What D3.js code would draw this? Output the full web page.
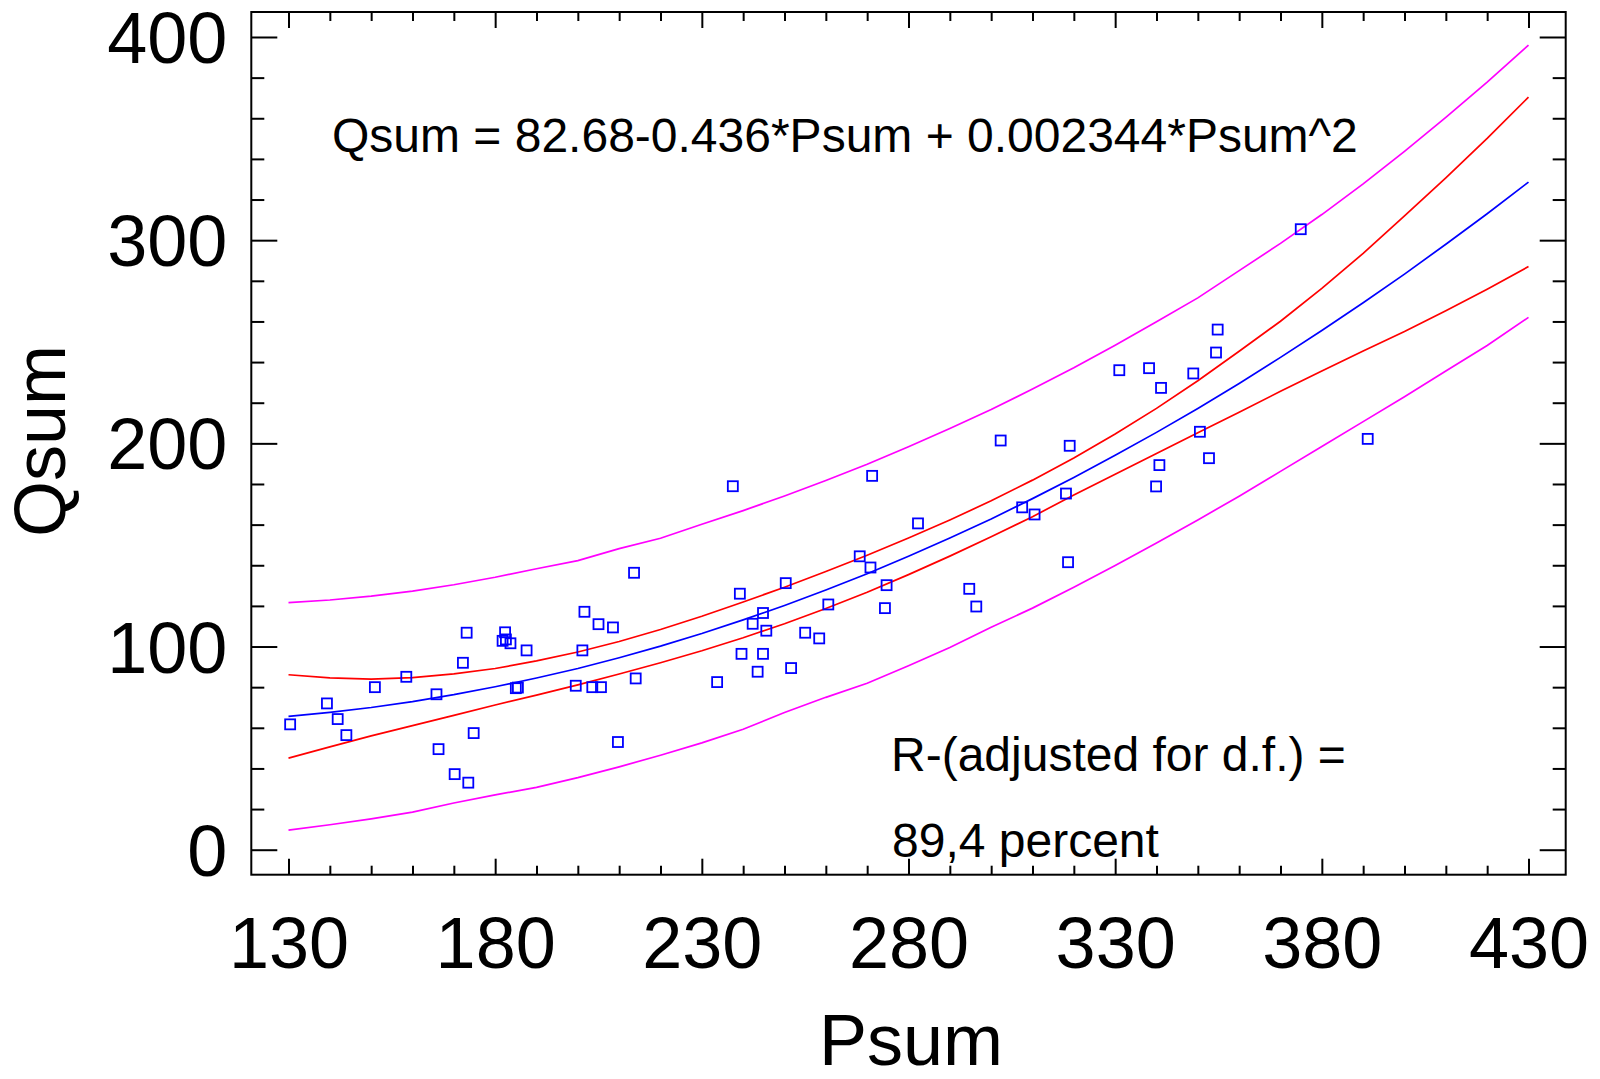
<!DOCTYPE html>
<html>
<head>
<meta charset="utf-8">
<script src="https://cdn.jsdelivr.net/npm/d3@7"></script>
<style>
  body { margin: 0; background: #fff; }
  svg { display: block; }
</style>
</head>
<body>
<div class="chart"></div>
<script>
// observed points (Psum, Qsum)
const psum = [130.4, 139.3, 141.9, 144.0, 150.9, 158.5, 165.8, 166.3, 170.2, 173.5,
  172.2, 173.1, 174.8, 182.4, 181.8, 183.7, 182.6, 187.6, 185.0, 185.5,
  199.5, 201.1, 201.6, 205.0, 208.5, 203.5, 205.6, 209.7, 213.6, 214.0,
  237.5, 239.2, 233.7, 239.6, 242.3, 244.8, 245.6, 244.8, 243.5, 251.6,
  250.3, 255.0, 258.4, 260.6, 268.2, 270.8, 271.2, 282.3, 274.7, 274.3,
  302.3, 319.0, 307.5, 310.5, 318.1, 318.6, 294.7, 296.4, 340.7, 339.9,
  350.5, 352.7, 374.9, 354.8, 354.4, 331.0, 338.2, 341.1, 348.9, 391.1];
const qsum = [61.7, 72.0, 64.3, 56.4, 80.0, 85.1, 76.5, 49.5, 37.2, 33.0,
  92.0, 106.8, 57.4, 107.0, 102.8, 101.6, 103.5, 98.1, 79.5, 79.8,
  80.7, 98.1, 117.1, 111.0, 109.4, 80.0, 80.0, 53.0, 136.3, 84.3,
  178.9, 126.0, 82.5, 96.4, 111.2, 116.5, 107.8, 96.4, 87.6, 89.4,
  131.2, 106.8, 104.0, 120.7, 144.4, 138.9, 184.0, 160.6, 130.2, 118.9,
  201.4, 198.8, 168.5, 165.0, 175.3, 141.5, 128.4, 119.7, 189.3, 178.8,
  205.7, 192.7, 305.4, 256.0, 244.7, 236.0, 237.0, 227.3, 234.4, 202.2];

// fitted curve and limits, read at each 10 of Psum
const curveX = [130, 140, 150, 160, 170, 180, 190, 200, 210, 220, 230, 240, 250, 260, 270, 280,
  290, 300, 310, 320, 330, 340, 350, 360, 370, 380, 390, 400, 410, 420, 430];
const fitQ = [65.6, 67.6, 70.0, 72.9, 76.3, 80.2, 84.5, 89.2, 94.5, 100.2, 106.4, 113.1, 120.2, 127.8, 135.8, 144.4,
  153.4, 162.8, 172.8, 183.2, 194.1, 205.4, 217.2, 229.5, 242.3, 255.5, 269.2, 283.3, 298.0, 313.0, 328.6];
const confHi = [86.1, 84.6, 84.0, 84.7, 86.5, 89.2, 92.9, 97.3, 102.5, 108.4, 114.9, 121.9, 129.2, 136.9, 144.9, 153.4,
  162.3, 171.7, 181.9, 192.8, 204.6, 217.2, 230.8, 245.3, 260.1, 276.3, 293.5, 311.9, 330.7, 350.1, 370.4];
const confLo = [45.1, 50.6, 56.0, 61.1, 66.1, 71.2, 76.1, 81.1, 86.5, 92.0, 97.9, 104.3, 111.2, 118.7, 126.7, 135.4,
  144.5, 154.0, 163.9, 174.6, 184.8, 195.0, 205.2, 215.3, 225.6, 235.6, 245.4, 255.0, 265.3, 275.9, 287.0];
const predHi = [121.6, 122.9, 124.8, 127.3, 130.4, 134.1, 138.3, 142.3, 148.2, 153.3, 160.2, 166.9, 174.1, 181.7, 189.7, 198.3,
  207.3, 216.7, 226.7, 237.2, 248.3, 259.9, 271.6, 285.0, 298.4, 312.6, 327.7, 343.7, 360.4, 377.8, 396.0];
const predLo = [9.6, 12.3, 15.2, 18.5, 23.0, 27.0, 30.7, 35.5, 40.8, 46.5, 52.6, 59.3, 67.5, 75.0, 81.9, 90.5,
  99.5, 109.5, 118.9, 129.2, 139.9, 150.9, 162.3, 174.0, 186.2, 198.4, 210.7, 222.9, 235.6, 248.2, 262.0];

// ticks
const xMajor = [130, 180, 230, 280, 330, 380, 430];
const xMinor = [140, 150, 160, 170, 190, 200, 210, 220, 240, 250, 260, 270, 290, 300, 310, 320,
  340, 350, 360, 370, 390, 400, 410, 420];
const yMajor = [0, 100, 200, 300, 400];
const yMinor = [20, 40, 60, 80, 120, 140, 160, 180, 220, 240, 260, 280, 320, 340, 360, 380];

const equation = "Qsum = 82.68-0.436*Psum + 0.002344*Psum^2";
const rLine1 = "R-(adjusted for d.f.) =";
const rLine2 = "89,4 percent";

const width = 1600, height = 1079;
const margin = {top: 12, right: 34.3, bottom: 204.3, left: 251.3};
const font = "'Liberation Sans', Arial, Helvetica, sans-serif";

const svg = d3.select(".chart").append("svg")
    .attr("width", width)
    .attr("height", height)
    .style("font-family", font);

const x = d3.scaleLinear()
    .domain([121, 439])
    .range([margin.left, width - margin.right]);

const y = d3.scaleLinear()
    .domain([-12.3, 412.3])
    .range([height - margin.bottom, margin.top]);

const bottomY = height - margin.bottom;
const rightX = width - margin.right;

// inward ticks on all four sides
function tickAxis(axis, values, size) {
  return g => g.call(axis.tickValues(values).tickSize(-size).tickFormat(""))
    .call(g => g.select(".domain").remove())
    .call(g => g.selectAll(".tick line").attr("stroke", "#000").attr("stroke-width", 2));
}

svg.append("g").attr("transform", `translate(0,${bottomY})`).call(tickAxis(d3.axisBottom(x), xMinor, 9));
svg.append("g").attr("transform", `translate(0,${bottomY})`).call(tickAxis(d3.axisBottom(x), xMajor, 16));
svg.append("g").attr("transform", `translate(0,${margin.top})`).call(tickAxis(d3.axisTop(x), xMinor, 9));
svg.append("g").attr("transform", `translate(0,${margin.top})`).call(tickAxis(d3.axisTop(x), xMajor, 16));
svg.append("g").attr("transform", `translate(${margin.left},0)`).call(tickAxis(d3.axisLeft(y), yMinor, 13));
svg.append("g").attr("transform", `translate(${margin.left},0)`).call(tickAxis(d3.axisLeft(y), yMajor, 26));
svg.append("g").attr("transform", `translate(${rightX},0)`).call(tickAxis(d3.axisRight(y), yMinor, 13));
svg.append("g").attr("transform", `translate(${rightX},0)`).call(tickAxis(d3.axisRight(y), yMajor, 26));

// tick labels
svg.append("g")
    .attr("transform", `translate(0,${bottomY})`)
    .call(d3.axisBottom(x).tickValues(xMajor).tickSize(0).tickPadding(42).tickFormat(d3.format("d")))
    .call(g => g.select(".domain").remove())
    .call(g => g.selectAll("text").attr("fill", "#000").style("font-size", "72px").style("font-family", font));

svg.append("g")
    .attr("transform", `translate(${margin.left},0)`)
    .call(d3.axisLeft(y).tickValues(yMajor).tickSize(0).tickPadding(24).tickFormat(d3.format("d")))
    .call(g => g.select(".domain").remove())
    .call(g => g.selectAll("text").attr("fill", "#000").attr("dy", "0.355em")
      .style("font-size", "72px").style("font-family", font));

// frame
svg.append("rect")
    .attr("x", margin.left)
    .attr("y", margin.top)
    .attr("width", rightX - margin.left)
    .attr("height", bottomY - margin.top)
    .attr("fill", "none")
    .attr("stroke", "#000")
    .attr("stroke-width", 2);

// curves
const line = d3.line().x(d => x(d[0])).y(d => y(d[1]));
const curves = [
  {vals: predHi, color: "#ff00ff"},
  {vals: predLo, color: "#ff00ff"},
  {vals: confHi, color: "#ff0000"},
  {vals: confLo, color: "#ff0000"},
  {vals: fitQ, color: "#0000ff"}
];
svg.append("g").selectAll("path")
    .data(curves)
    .join("path")
    .attr("fill", "none")
    .attr("stroke", d => d.color)
    .attr("stroke-width", 1.7)
    .attr("d", d => line(curveX.map((v, i) => [v, d.vals[i]])));

// points
const sq = 10;
svg.append("g").selectAll("rect")
    .data(psum.map((v, i) => [v, qsum[i]]))
    .join("rect")
    .attr("x", d => x(d[0]) - sq / 2)
    .attr("y", d => y(d[1]) - sq / 2)
    .attr("width", sq)
    .attr("height", sq)
    .attr("fill", "none")
    .attr("stroke", "#0000ff")
    .attr("stroke-width", 1.8);

// annotations
svg.append("text")
    .attr("x", 332).attr("y", 152)
    .style("font-size", "48px")
    .text(equation);

svg.append("text")
    .attr("x", 891).attr("y", 771)
    .style("font-size", "48px")
    .text(rLine1);

svg.append("text")
    .attr("x", 892).attr("y", 857)
    .style("font-size", "48px")
    .text(rLine2);

// axis titles
svg.append("text")
    .attr("x", 911).attr("y", 1065)
    .attr("text-anchor", "middle")
    .style("font-size", "72px")
    .text("Psum");

svg.append("text")
    .attr("transform", "translate(65,441) rotate(-90)")
    .attr("text-anchor", "middle")
    .style("font-size", "72px")
    .text("Qsum");
</script>
</body>
</html>
